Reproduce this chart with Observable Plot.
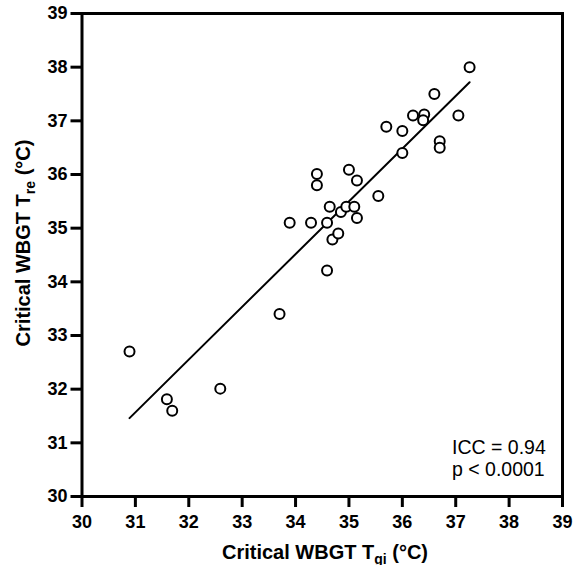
<!DOCTYPE html>
<html>
<head>
<meta charset="utf-8">
<script src="https://cdn.jsdelivr.net/npm/d3@7"></script>
<script src="https://cdn.jsdelivr.net/npm/@observablehq/plot@0.6"></script>
<style>
  html, body { margin: 0; padding: 0; background: #fff; }
  svg { display: block; }
  #wrap { position: relative; width: 575px; height: 565px; }
  svg [aria-label="frame"], svg [aria-label="frame"] * { stroke: #000 !important; stroke-width: 3px !important; fill: none !important; }
  svg g[aria-label="x-axis tick"] line, svg g[aria-label="y-axis tick"] line,
  svg g[aria-label="x-axis tick"] path, svg g[aria-label="y-axis tick"] path { stroke: #000 !important; stroke-width: 3px !important; }
  svg g[aria-label="x-axis tick label"] text, svg g[aria-label="y-axis tick label"] text {
    font-family: "Liberation Sans", Arial, Helvetica, sans-serif !important; font-weight: 700 !important; font-size: 18px !important; fill: #000 !important; }
  svg g[aria-label="dot"] circle { stroke: #000 !important; stroke-width: 2px !important; fill: #fff !important; }
  svg g[aria-label="line"] path { stroke: #000 !important; stroke-width: 2px !important; fill: none !important; }
  svg g[aria-label="text"] text { font-family: "Liberation Sans", Arial, Helvetica, sans-serif !important; font-size: 19.5px !important; fill: #000 !important; }
  .atitle { position: absolute; white-space: nowrap; font-family: "Liberation Sans", Arial, Helvetica, sans-serif;
            font-weight: bold; font-size: 20px; line-height: 20px; color: #000; }
  .atitle .sub { font-size: 14px; position: relative; top: 5px; }
  #xtitle { left: 325px; top: 542px; transform: translateX(-50%); }
  #ytitle { left: 24px; top: 243px; transform: translate(-50%, -50%) rotate(-90deg); }
</style>
</head>
<body>
<div id="wrap"></div>
<script>
// Critical WBGT values (°C)
const tgi = [30.89, 31.59, 31.69, 32.59, 33.70, 33.89, 34.29, 34.40, 34.40, 34.59, 34.59,
             34.64, 34.69, 34.80, 34.85, 34.95, 35.00, 35.10, 35.15, 35.15, 35.55, 35.70,
             36.00, 36.00, 36.20, 36.41, 36.39, 36.60, 36.70, 36.70, 37.05, 37.26];
const tre = [32.70, 31.81, 31.60, 32.01, 33.40, 35.10, 35.10, 36.01, 35.80, 35.10, 34.21,
             35.40, 34.79, 34.90, 35.30, 35.40, 36.09, 35.40, 35.89, 35.19, 35.60, 36.89,
             36.81, 36.40, 37.10, 37.12, 37.01, 37.50, 36.62, 36.50, 37.10, 38.00];
// fitted line end points
const fitX = [30.89, 37.26];
const fitY = [31.46, 37.72];
const xTicks = [30, 31, 32, 33, 34, 35, 36, 37, 38, 39];
const yTicks = [30, 31, 32, 33, 34, 35, 36, 37, 38, 39];
const annotLines = ["ICC = 0.94", "p < 0.0001"];
const annotX = [36.93, 36.93];
const annotY = [30.90, 30.495];
const xTitle = ["Critical WBGT T", "gi", " (°C)"];
const yTitle = ["Critical WBGT T", "re", " (°C)"];

const points = tgi.map((x, i) => ({x, y: tre[i]}));
const fit = fitX.map((x, i) => ({x, y: fitY[i]}));
const annot = annotLines.map((t, i) => ({t, x: annotX[i], y: annotY[i]}));

const FONT = "Liberation Sans, Arial, Helvetica, sans-serif";

const chart = Plot.plot({
  width: 575, height: 565, marginLeft: 81.5, marginRight: 13, marginTop: 13, marginBottom: 69,
  x: {domain: [30, 39]},
  y: {domain: [30, 39]},
  marks: [
    Plot.frame({stroke: "#000", strokeWidth: 3}),
    Plot.axisX({ticks: xTicks, tickFormat: d => String(d), tickSize: 11, tickPadding: 7.5,
      strokeWidth: 3, fontSize: 18, fontWeight: "bold", fontFamily: FONT, fill: "#000", label: null}),
    Plot.axisY({ticks: yTicks, tickFormat: d => String(d), tickSize: 11, tickPadding: 3.5,
      strokeWidth: 3, fontSize: 18, fontWeight: "bold", fontFamily: FONT, fill: "#000", label: null}),
    Plot.line(fit, {x: "x", y: "y", stroke: "#000", strokeWidth: 2}),
    Plot.dot(points, {x: "x", y: "y", r: 5, stroke: "#000", strokeWidth: 2, fill: "#fff"}),
    Plot.text(annot, {x: "x", y: "y", text: "t", textAnchor: "start", fontSize: 19.5,
      fontFamily: FONT, fill: "#000"})
  ]
});

const wrap = document.getElementById("wrap");
wrap.appendChild(chart);

function addTitle(id, parts) {
  const div = document.createElement("div");
  div.id = id;
  div.className = "atitle";
  const a = document.createElement("span"); a.textContent = parts[0];
  const s = document.createElement("span"); s.className = "sub"; s.textContent = parts[1];
  const b = document.createElement("span"); b.textContent = parts[2];
  div.append(a, s, b);
  wrap.appendChild(div);
}
addTitle("xtitle", xTitle);
addTitle("ytitle", yTitle);
</script>
</body>
</html>
